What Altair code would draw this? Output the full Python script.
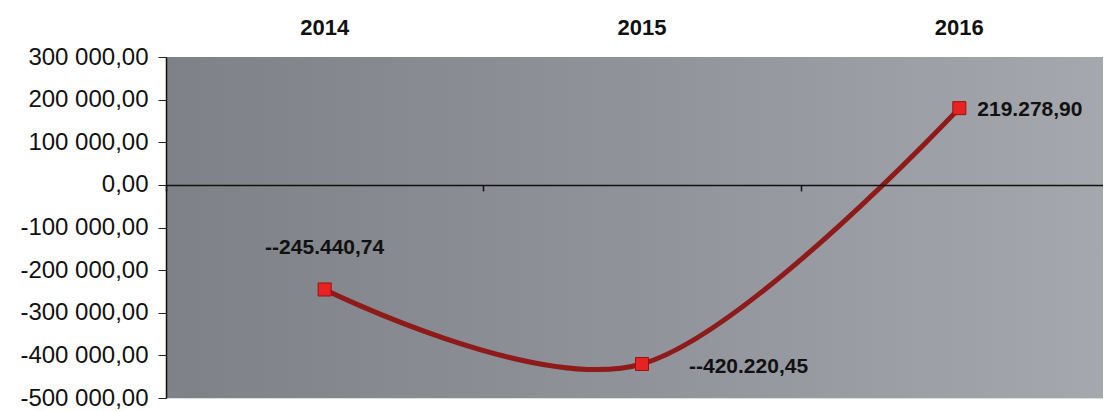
import altair as alt
import pandas as pd

years = ["2014", "2015", "2016"]
# plotted positions
values = [-245440.74, -420220.45, 180000.0]
labels = ["--245.440,74", "--420.220,45", "219.278,90"]
y_ticks = [-500000, -400000, -300000, -200000, -100000, 0, 100000, 200000, 300000]

df = pd.DataFrame({"year": years, "value": values, "label": labels})

W, H = 937, 341
x_scale = alt.Scale(domain=years, range=[0, 952], paddingInner=0, paddingOuter=0)
y_scale = alt.Scale(domain=[-500000, 300000], nice=False, zero=False)

y_axis = alt.Axis(values=y_ticks, title=None, grid=False, zindex=1,
                  labelExpr="replace(replace(replace(format(datum.value, ',.2f'), ',', ' '), '.', ','), '\u2212', '-')",
                  labelFontSize=24, labelFont="Liberation Sans", labelColor="#111",
                  tickSize=8, tickColor="#222", domainColor="#111", domainWidth=1.5,
                  labelPadding=10)


def yenc():
    return alt.Y("value:Q", scale=y_scale, axis=y_axis)


base = alt.Chart(df)

grad = alt.LinearGradient(
    gradient="linear", x1=0, x2=1, y1=0, y2=0,
    stops=[alt.GradientStop(color="#7e8186", offset=0),
           alt.GradientStop(color="#90939a", offset=0.5),
           alt.GradientStop(color="#a5a8ad", offset=1)],
)

bg = alt.Chart(pd.DataFrame({"a": [0]})).mark_rect(color=grad).encode(
    x=alt.value(0), x2=alt.value(952), y=alt.value(0), y2=alt.value(H)
)

line = base.mark_line(color="#8e1a1a", strokeWidth=5, interpolate="cardinal").encode(
    x=alt.X("year:N", scale=x_scale, sort=years,
            axis=alt.Axis(orient="top", title=None, domain=False, ticks=False,
                          labelAngle=0, labelFontWeight="bold", labelFontSize=22,
                          labelFont="Liberation Sans", labelColor="#111",
                          labelPadding=18)),
    y=yenc(),
)

points = base.mark_square(size=170, color="#e62222", stroke="#a01010", strokeWidth=1, opacity=1).encode(
    x=alt.X("year:N", scale=x_scale, sort=years,
            axis=alt.Axis(orient="bottom", offset=-(H * 5 / 8), title=None, labels=False,
                          tickBand="extent", tickSize=6, tickColor="#111", tickWidth=1.5,
                          domainColor="#111", domainWidth=1.5, zindex=1)),
    y=yenc(),
)

txt_style = dict(fontSize=21, fontWeight="bold", font="Liberation Sans", color="#111")
t1 = base.mark_text(align="center", baseline="middle", dy=-41, **txt_style).encode(
    x=alt.X("year:N", scale=x_scale, sort=years, axis=None),
    y=yenc(), text="label:N",
).transform_filter(alt.datum.year == "2014")
t2 = base.mark_text(align="left", baseline="middle", dx=47, dy=3, **txt_style).encode(
    x=alt.X("year:N", scale=x_scale, sort=years, axis=None),
    y=yenc(), text="label:N",
).transform_filter(alt.datum.year == "2015")
t3 = base.mark_text(align="left", baseline="middle", dx=18, dy=2, **txt_style).encode(
    x=alt.X("year:N", scale=x_scale, sort=years, axis=None),
    y=yenc(), text="label:N",
).transform_filter(alt.datum.year == "2016")

chart = alt.layer(bg, line, points, t1, t2, t3).resolve_axis(x="independent").properties(
    width=W, height=H,
    autosize=alt.AutoSizeParams(type="none"),
    padding={"left": 158, "top": 49, "right": 0, "bottom": 12},
).configure_view(stroke=None).configure(background="white")

chart.save("out.html", embed_options={"renderer": "svg", "actions": False})
